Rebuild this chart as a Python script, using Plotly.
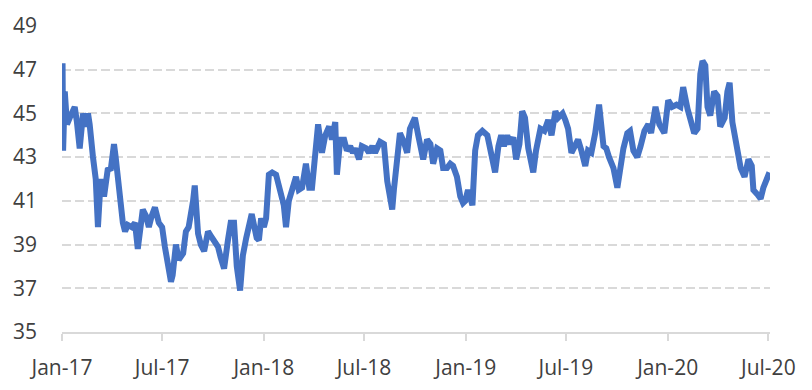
import plotly.graph_objects as go

dates = [
    "2017-01-02", "2017-01-03", "2017-01-06", "2017-01-10", "2017-01-15", "2017-01-24", "2017-01-28",
    "2017-02-02", "2017-02-08", "2017-02-13", "2017-02-17", "2017-02-20", "2017-02-26",
    "2017-03-03", "2017-03-07", "2017-03-12", "2017-03-18", "2017-03-25", "2017-03-30",
    "2017-04-05", "2017-04-08", "2017-04-12", "2017-04-17", "2017-04-21", "2017-04-25", "2017-04-30",
    "2017-05-07", "2017-05-13", "2017-05-18", "2017-05-22", "2017-05-27",
    "2017-06-02", "2017-06-07", "2017-06-12", "2017-06-18", "2017-06-25",
    "2017-07-01", "2017-07-06", "2017-07-11", "2017-07-17", "2017-07-20", "2017-07-26", "2017-07-31",
    "2017-08-08", "2017-08-13", "2017-08-18", "2017-08-26", "2017-08-29",
    "2017-09-04", "2017-09-09", "2017-09-15", "2017-09-22", "2017-09-27",
    "2017-10-03", "2017-10-10", "2017-10-15", "2017-10-21", "2017-10-28",
    "2017-11-02", "2017-11-08", "2017-11-13", "2017-11-19", "2017-11-24", "2017-11-30",
    "2017-12-05", "2017-12-10", "2017-12-14", "2017-12-19", "2017-12-23", "2017-12-27",
    "2018-01-01", "2018-01-05", "2018-01-10", "2018-01-16", "2018-01-23", "2018-01-26",
    "2018-02-01", "2018-02-06", "2018-02-10", "2018-02-15", "2018-02-21", "2018-02-28",
    "2018-03-05", "2018-03-11", "2018-03-18", "2018-03-24", "2018-03-29",
    "2018-04-05", "2018-04-09", "2018-04-16", "2018-04-22", "2018-04-29",
    "2018-05-04", "2018-05-10", "2018-05-13", "2018-05-19", "2018-05-26", "2018-05-31",
    "2018-06-06", "2018-06-11", "2018-06-15", "2018-06-22", "2018-06-27",
    "2018-07-05", "2018-07-10", "2018-07-16", "2018-07-21", "2018-07-30",
    "2018-08-06", "2018-08-12", "2018-08-17", "2018-08-21", "2018-08-24", "2018-08-30",
    "2018-09-04", "2018-09-11", "2018-09-17", "2018-09-22", "2018-09-28",
    "2018-10-01", "2018-10-07", "2018-10-12", "2018-10-16", "2018-10-23", "2018-10-29",
    "2018-11-03", "2018-11-10", "2018-11-16", "2018-11-21", "2018-11-28",
    "2018-12-04", "2018-12-09", "2018-12-16", "2018-12-22", "2018-12-27", "2018-12-31",
    "2019-01-05", "2019-01-13", "2019-01-18", "2019-01-23", "2019-01-31",
    "2019-02-09", "2019-02-14", "2019-02-23",
    "2019-03-01", "2019-03-06", "2019-03-11", "2019-03-17", "2019-03-22", "2019-03-28",
    "2019-04-02", "2019-04-08", "2019-04-13", "2019-04-18", "2019-04-24",
    "2019-05-03", "2019-05-08", "2019-05-16", "2019-05-23", "2019-05-30",
    "2019-06-05", "2019-06-12", "2019-06-17", "2019-06-25", "2019-06-30",
    "2019-07-05", "2019-07-11", "2019-07-18", "2019-07-23", "2019-07-29",
    "2019-08-05", "2019-08-10", "2019-08-16", "2019-08-23", "2019-08-30",
    "2019-09-07", "2019-09-12", "2019-09-17", "2019-09-25",
    "2019-10-02", "2019-10-07", "2019-10-13", "2019-10-20", "2019-10-25", "2019-10-31",
    "2019-11-07", "2019-11-13", "2019-11-20", "2019-11-27",
    "2019-12-02", "2019-12-10", "2019-12-17", "2019-12-26",
    "2020-01-02", "2020-01-09", "2020-01-17", "2020-01-24", "2020-01-29",
    "2020-02-06", "2020-02-11", "2020-02-18", "2020-02-24", "2020-02-29",
    "2020-03-04", "2020-03-09", "2020-03-13", "2020-03-18", "2020-03-25", "2020-03-31",
    "2020-04-05", "2020-04-13", "2020-04-18", "2020-04-22", "2020-04-27",
    "2020-05-04", "2020-05-12", "2020-05-19", "2020-05-26",
    "2020-06-01", "2020-06-04", "2020-06-11", "2020-06-17", "2020-06-22", "2020-06-28",
    "2020-07-03",
]

values = [
    47.3, 43.3, 46.0, 44.5, 44.8, 45.3, 44.6,
    43.4, 45.0, 44.4, 45.0, 44.5, 43.0,
    42.0, 39.8, 42.0, 41.2, 42.5, 42.4,
    43.6, 43.0, 42.0, 41.0, 40.0, 39.6, 39.9,
    39.8, 40.0, 38.8, 39.8, 40.6,
    40.3, 39.8, 40.3, 40.7, 40.0,
    39.8, 38.9, 38.2, 37.3, 37.6, 39.0, 38.3,
    38.6, 39.6, 39.8, 41.0, 41.7,
    39.5, 39.0, 38.7, 39.6, 39.4,
    39.1, 38.9, 38.4, 37.9, 39.2,
    40.0, 40.0, 38.0, 36.9, 38.5, 39.3,
    39.8, 40.4, 39.9, 39.3, 39.2, 40.2,
    39.8, 40.2, 42.2, 42.3, 42.2, 41.9,
    41.4, 40.8, 39.8, 41.0, 41.5, 42.1,
    41.5, 41.6, 42.7, 41.6, 41.6,
    43.6, 44.5, 43.2, 44.0, 44.4,
    43.8, 44.6, 42.2, 43.8, 43.8, 43.3,
    43.5, 43.2, 43.4, 42.9, 43.5,
    43.4, 43.2, 43.5, 43.2, 43.7,
    43.6, 41.9, 40.9, 40.6, 41.5, 43.0,
    44.1, 43.7, 43.2, 44.3, 44.6,
    44.8, 44.0, 43.5, 42.9, 43.8, 43.6,
    42.7, 43.4, 43.3, 42.5, 42.5,
    42.7, 42.6, 42.1, 41.2, 40.9, 41.0,
    41.5, 40.8, 43.3, 44.0, 44.2,
    44.0, 43.3, 42.3,
    43.5, 44.0, 43.5, 44.0, 43.6, 43.9,
    42.9, 43.6, 45.1, 44.8, 43.4,
    42.3, 43.3, 44.3, 44.2, 44.7,
    44.0, 45.1, 44.8, 45.0, 44.7,
    44.3, 43.2, 43.6, 43.8, 43.3,
    42.6, 43.3, 43.2, 44.1, 45.4,
    43.5, 43.4, 43.0, 42.5,
    41.6, 42.6, 43.4, 44.1, 44.2, 43.3,
    43.0, 43.5, 44.2, 44.5,
    44.1, 45.3, 44.5, 44.1,
    45.6, 45.3, 45.4, 45.3, 46.2,
    45.2, 44.8, 44.1, 44.3, 46.8,
    47.4, 47.2, 45.3, 44.9, 46.0, 45.8,
    44.4, 44.8, 46.0, 46.4, 44.6,
    43.6, 42.5, 42.1, 42.9,
    42.6, 41.5, 41.3, 41.1, 41.6, 41.9,
    42.3,
]

y_ticks = [35, 37, 39, 41, 43, 45, 47, 49]

FONT = "Open Sans"
TEXT = "#404040"
GRID = "#d9d9d9"

fig = go.Figure()
fig.add_trace(go.Scatter(
    x=dates, y=values, mode="lines",
    line=dict(color="#4472C4", width=6, shape="linear"),
    hoverinfo="skip", showlegend=False,
))

fig.update_layout(
    width=796, height=374,
    margin=dict(l=54, r=34, t=18, b=50, autoexpand=False),
    paper_bgcolor="white", plot_bgcolor="white",
    font=dict(family=FONT, size=21, color=TEXT),
    showlegend=False,
)
fig.update_xaxes(
    type="date", automargin=False,
    range=["2017-01-01", "2020-07-04"],
    tick0="2017-01-01", dtick="M6", tickformat="%b-%y",
    showgrid=False, zeroline=False,
    showline=True, linecolor=GRID, linewidth=2,
    ticks="outside", ticklen=7, tickcolor=GRID, tickwidth=2,
    tickfont=dict(family=FONT, size=21, color=TEXT),
    ticklabelstandoff=9,
)
fig.update_yaxes(
    automargin=False,
    range=[35, 49], tickvals=y_ticks,
    showgrid=True, gridcolor=GRID, gridwidth=2, griddash="9px,4px",
    zeroline=False, showline=False, ticks="",
    tickfont=dict(family=FONT, size=21, color=TEXT),
    ticklabelstandoff=24,
)

fig.write_html("out.html")
